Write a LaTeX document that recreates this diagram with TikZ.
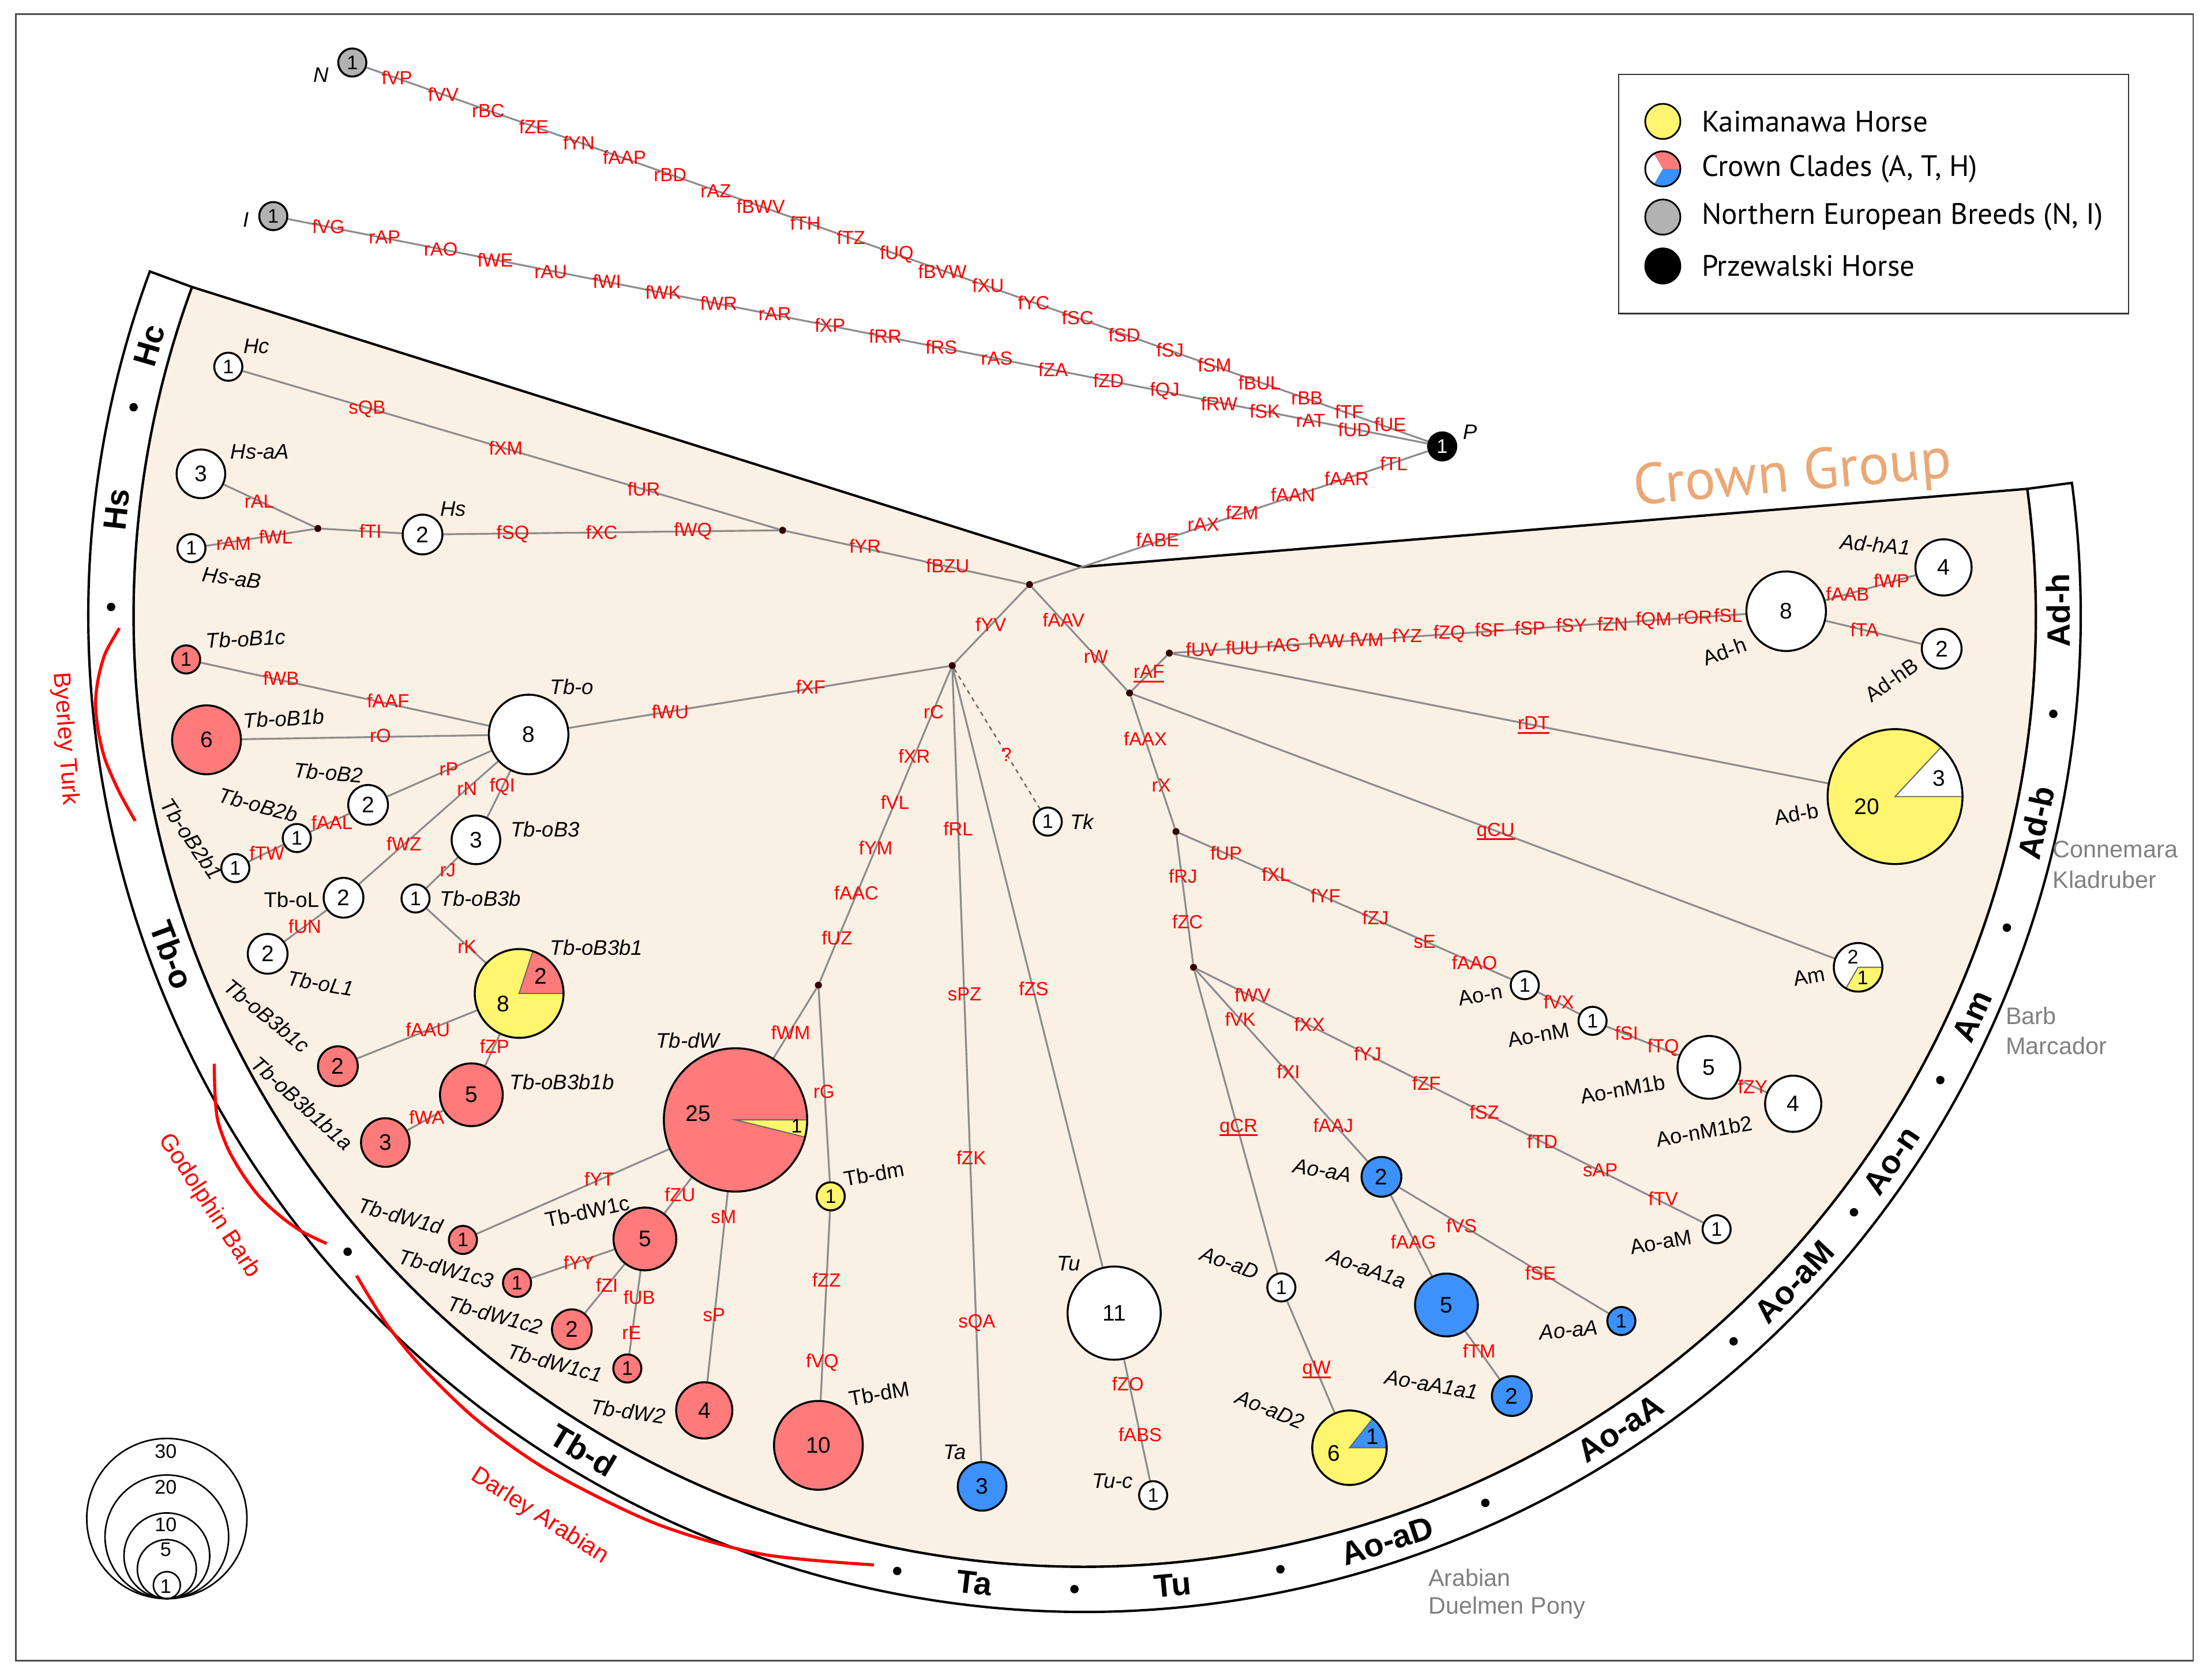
\documentclass[tikz,border=0pt]{standalone}
\usepackage{fontspec}
\setmainfont{Liberation Sans}
\newfontfamily\legfont{PT Sans}
\definecolor{labred}{RGB}{255,0,0}
\definecolor{hred}{RGB}{255,122,122}
\definecolor{hyel}{RGB}{255,245,110}
\definecolor{hblu}{RGB}{60,145,250}
\definecolor{hgry}{RGB}{178,178,178}
\definecolor{beige}{RGB}{251,240,228}
\definecolor{edgeg}{RGB}{140,140,140}
\definecolor{crownc}{RGB}{234,168,118}
\definecolor{brgrey}{RGB}{128,128,128}
\newcommand\rlfont{\fontsize{13.5}{13.5}\selectfont}
\newcommand\nlifont{\fontsize{15}{15}\selectfont\itshape}
\newcommand\nlfont{\fontsize{15}{15}\selectfont}
\newcommand\numfont{\fontsize{16}{16}\selectfont}
\newcommand\numsfont{\fontsize{14}{14}\selectfont}
\newcommand\ringfont{\fontsize{23}{23}\selectfont\bfseries}
\newcommand\legtfont{\legfont\fontsize{21}{21}\selectfont}
\newcommand\crownfont{\legfont\fontsize{41}{41}\selectfont}
\newcommand\breedfont{\fontsize{17}{17}\selectfont}
\newcommand\horsefont{\fontsize{17}{17}\selectfont}
\newcommand\redul[1]{\setbox0\hbox{#1}\rlap{\rule[-2.8pt]{\wd0}{1.2pt}}\box0}
\pgfdeclarelayer{back}
\pgfdeclarelayer{edgelayer}
\pgfsetlayers{back,edgelayer,main}
\tikzset{
  rl/.style={text=labred, font=\rlfont, inner sep=0.5pt},
  nli/.style={font=\nlifont, inner sep=0.5pt},
  nlu/.style={font=\nlfont, inner sep=0.5pt},
  hap/.style={circle, draw=black, line width=1.4pt, inner sep=0, font=\numfont, fill=white},
  sz/.style={minimum size=#1},
  one/.style={hap, minimum size=20pt, font=\numsfont},
  rd/.style={fill=hred}, yl/.style={fill=hyel}, bl/.style={fill=hblu}, gy/.style={fill=hgry},
  ed/.style={draw=edgeg, line width=1.3pt},
  jd/.style={circle, fill=black!80!red, inner sep=0, minimum size=5pt},
  ringlab/.style={font=\ringfont, inner sep=0},
  breed/.style={text=brgrey, font=\breedfont, anchor=west, inner sep=0},
  horse/.style={text=labred, font=\horsefont, inner sep=0},
  legt/.style={font=\legtfont, anchor=west, inner sep=0},
  pienum/.style={font=\numfont, inner sep=0},
  wedge/.style={draw=black!60, line width=0.8pt},
}
\begin{document}
\begin{tikzpicture}[x=1pt,y=-1pt]
\useasboundingbox (0,0) rectangle (1568,1195.6);
\coordinate (C0) at (772,438);
\coordinate (apex) at (770,403.5);
% ---------- sector and ring ----------
\begin{pgfonlayer}{back}
\filldraw[fill=beige, line width=1.7pt] (apex) -- ([shift={(C0)}]-7.65:677) arc[start angle=-7.65, end angle=200.2, radius=677] -- cycle;
\filldraw[fill=white, line width=1.7pt] ([shift={(C0)}]-7.65:677) arc[start angle=-7.65, end angle=200.2, radius=677] -- ([shift={(C0)}]200.2:709) arc[start angle=200.2, end angle=-7.65, radius=709] -- cycle;
\end{pgfonlayer}
\foreach \a/\r/\xt [count=\i] in {196.1/73.9/Hc, 186.25/83.75/Hs, 159.6/-69.6/Tb-o, 121/-31/Tb-d, 96.5/-6.5/Ta, 84.8/5.2/Tu, 71.9/18.1/Ao-aD, 56.6/33.4/Ao-aA, 43.2/46.8/Ao-aM, 34.05/55.95/Ao-n, 24.3/65.7/Am, 12.3/77.7/Ad-b, -0.3/90.3/Ad-h}
  \node[ringlab, rotate=\r] (rg\i) at ([shift={(C0)}]\a:693) {\xt};
\foreach \a in {192.35,180.5,139.2,101.1,90.6,78.4,65.7,48.2,37.8,28.5,18.7,5.8}
  \fill ([shift={(C0)}]\a:693) circle[radius=3];
% ---------- frame, legend ----------
\draw[line width=1.2pt, black!70] (11.3,10.2) rectangle (1561,1182);
\draw[line width=1pt, black!80] (1152,52.9) rectangle (1515,223.1);
\node[circle, draw, line width=1.2pt, fill=hyel, minimum size=25pt, inner sep=0] (lg1) at (1183.5,86.4) {};
\node[circle, fill=white, minimum size=25pt, inner sep=0] (lg2) at (1183.5,120.2) {};
\fill[hred] (lg2.center) -- ++(-120:12.5) arc[start angle=-120, end angle=0, radius=12.5] -- cycle;
\fill[hblu] (lg2.center) -- ++(0:12.5) arc[start angle=0, end angle=120, radius=12.5] -- cycle;
\draw[line width=1.2pt] (lg2.center) circle[radius=12.5];
\node[circle, draw, line width=1.2pt, fill=hgry, minimum size=25pt, inner sep=0] (lg3) at (1183.5,154.5) {};
\node[circle, draw, line width=1.2pt, fill=black, minimum size=25pt, inner sep=0] (lg4) at (1183.5,189.3) {};
\node[legt] (lt1) at (1211,86.4) {Kaimanawa Horse};
\node[legt] (lt2) at (1211,120.2) {Crown Clades (A, T, H)};
\node[legt] (lt3) at (1211,154.5) {Northern European Breeds (N, I)};
\node[legt] (lt4) at (1211,189.3) {Przewalski Horse};
\node[text=crownc, font=\crownfont, rotate=5, inner sep=0] (cg) at (1276,339) {Crown Group};
% breeds
\node[breed] (b1) at (1461,604.5) {Connemara};
\node[breed] (b2) at (1461,626.1) {Kladruber};
\node[breed] (b3) at (1427.5,722.7) {Barb};
\node[breed] (b4) at (1427.5,744.3) {Marcador};
\node[breed] (b5) at (1016.5,1122.6) {Arabian};
\node[breed] (b6) at (1016.5,1144.2) {Duelmen Pony};
% sire lines
\draw[labred, line width=2.2pt] plot[smooth] coordinates {(85,447) (75,464.8) (70,482.6) (68,500.4) (70,520.7) (75,541) (85,563.9) (96.25,584.2)};
\draw[labred, line width=2.2pt] plot[smooth] coordinates {(152.5,757) (153,778) (155,797.3) (162,817) (172.5,835.4) (185,852) (200,865.9) (215,876.5) (232.5,885)};
\draw[labred, line width=2.2pt] plot[smooth] coordinates {(253.75,907.8) (275,942) (300,972.6) (340,1011) (392,1047.5) (467,1084.4) (542,1106) (622,1113.7)};
\node[horse, rotate=-85.8] (bt) at (46.25,525.7) {Byerley Turk};
\node[horse, rotate=-57] (gb) at (148.75,858.3) {Godolphin Barb};
\node[horse, rotate=-32.6] (da) at (384,1079) {Darley Arabian};
% scale
\foreach \r/\xt/\ty in {57/30/1033, 44/20/1058.4, 30.5/10/1085.1, 21/5/1102.9, 9.6/1/1128.8} {
  \draw[line width=1.1pt] (118.75,1137.7-\r) circle[radius=\r];
  \node[font=\numsfont, inner sep=0] (sc\xt) at (118,\ty) {\xt};
}
% ---------- junctions ----------
\node[jd] (J0) at (732.75,416) {};
\node[jd] (JH) at (557,377.4) {};
\node[jd] (JHs) at (226.25,376.1) {};
\node[jd] (JT) at (677.75,473.7) {};
\node[jd] (JW) at (582.5,701.1) {};
\node[jd] (JA) at (804,493.2) {};
\node[jd] (JAd) at (832.25,464.8) {};
\node[jd] (JX) at (837,591.8) {};
\node[jd] (JC) at (849.5,688.4) {};
% ---------- haplotypes ----------
\node[one, gy] (N) at (250.75,44.5) {1};
\node[one, gy] (I) at (194.5,153.8) {1};
\node[one, fill=black, text=white] (P) at (1026.5,317.7) {1};
\node[one] (Hc) at (162.5,261) {1};
\node[hap, sz=34.6pt] (HsaA) at (143,337.2) {3};
\node[hap, sz=28.3pt] (Hs) at (300.75,380.4) {2};
\node[one] (HsaB) at (136.25,390.1) {1};
\node[one, rd] (TboBic) at (132.5,469.3) {1};
\node[hap, sz=56.6pt] (Tbo) at (376.25,522.7) {8};
\node[hap, rd, sz=49pt] (TboBib) at (147,526.5) {6};
\node[hap, sz=28.3pt] (TboBii) at (262,572.8) {2};
\node[one] (TboBiib) at (211.25,596.4) {1};
\node[one] (TboBiibi) at (167.5,617.8) {1};
\node[hap, sz=34.6pt] (TboBiii) at (338.75,597.7) {3};
\node[hap, sz=28.3pt] (TboL) at (244.5,638.9) {2};
\node[one] (TboBiiib) at (295.75,639.4) {1};
\node[hap, sz=28.3pt] (TboLi) at (190.5,678.8) {2};
\node[hap, rd, sz=28.3pt] (TboBiiibic) at (240.5,758.8) {2};
\node[hap, rd, sz=44.7pt] (TboBiiibib) at (335.5,779.1) {5};
\node[hap, rd, sz=34.6pt] (TboBiiibiba) at (274.25,813.1) {3};
\node[one, rd] (TbdWid) at (329.5,882.4) {1};
\node[hap, rd, sz=44.7pt] (TbdWc) at (459,881.7) {5};
\node[one, rd] (TbdWcc) at (368,913) {1};
\node[hap, rd, sz=28.3pt] (TbdWcb) at (407,946) {2};
\node[one, rd] (TbdWca) at (446.5,973.9) {1};
\node[hap, rd, sz=40pt] (TbdWb) at (501.25,1003.7) {4};
\node[one, yl] (Tbdm) at (591.25,851.4) {1};
\node[hap, rd, sz=63.2pt] (TbdM) at (582.5,1028.6) {10};
\node[hap, bl, sz=34.6pt] (Ta) at (699,1057.8) {3};
\node[one] (Tk) at (745.75,584.7) {1};
\node[hap, sz=66.3pt] (Tu) at (793,934.5) {11};
\node[one] (Tuc) at (820.75,1064.1) {1};
\node[hap, sz=40pt] (AdhA) at (1383.3,403.8) {4};
\node[hap, sz=56.6pt] (Adh) at (1271.3,435) {8};
\node[hap, sz=28.3pt] (AdhB) at (1382,461.7) {2};
\node[one] (Aon) at (1085.25,701.1) {1};
\node[one] (AonM) at (1133.5,726.5) {1};
\node[hap, sz=44.7pt] (AonMb) at (1216.3,759.6) {5};
\node[hap, sz=40pt] (AonMbb) at (1276.3,785.5) {4};
\node[one] (AoaM) at (1221.8,874.8) {1};
\node[hap, bl, sz=28.3pt] (AoaA) at (983.25,837.5) {2};
\node[hap, bl, sz=44.7pt] (AoaAa) at (1029.5,928.7) {5};
\node[one, bl] (AoaAs) at (1154,940.1) {1};
\node[hap, bl, sz=28.3pt] (AoaAaa) at (1076,993.5) {2};
\node[one] (AoaD) at (912,916.2) {1};
% pies
\node[circle, inner sep=0, minimum size=63.2pt, fill=hyel] (TboBiiibi) at (369.5,707) {};
\filldraw[fill=hred, wedge] (TboBiiibi.center) -- ++(-72:31.6) arc[start angle=-72, end angle=0, radius=31.6] -- cycle;
\draw[line width=1.4pt] (TboBiiibi.center) circle[radius=31.6];
\node[pienum] (pa1) at (385,694.8) {2};
\node[pienum] (pa2) at (358,714.3) {8};
\node[circle, inner sep=0, minimum size=102pt, fill=hred] (TbdW) at (523.5,797) {};
\filldraw[fill=hyel, wedge] (TbdW.center) -- ++(0:51) arc[start angle=0, end angle=13.85, radius=51] -- cycle;
\draw[line width=1.4pt] (TbdW.center) circle[radius=51];
\node[pienum] (pb1) at (497,792.6) {25};
\node[font=\numsfont, inner sep=0] (pb2) at (567,801.3) {1};
\node[circle, inner sep=0, minimum size=96pt, fill=hyel] (Adb) at (1348.8,566.9) {};
\filldraw[fill=white, wedge] (Adb.center) -- ++(-47:48) arc[start angle=-47, end angle=0, radius=48] -- cycle;
\draw[line width=1.4pt] (Adb.center) circle[radius=48];
\node[pienum] (pc1) at (1380,553.7) {3};
\node[pienum] (pc2) at (1328.8,574) {20};
\node[circle, inner sep=0, minimum size=34.6pt, fill=white] (Am) at (1322.5,688.4) {};
\filldraw[fill=hyel, wedge] (Am.center) -- ++(0:17.3) arc[start angle=0, end angle=120, radius=17.3] -- cycle;
\draw[line width=1.4pt] (Am.center) circle[radius=17.3];
\node[font=\numsfont, inner sep=0] (pd1) at (1318.8,680.8) {2};
\node[font=\numsfont, inner sep=0] (pd2) at (1325.8,696) {1};
\node[circle, inner sep=0, minimum size=52.9pt, fill=hyel] (AoaDb) at (960.5,1030.3) {};
\filldraw[fill=hblu, wedge] (AoaDb.center) -- ++(-51.4:26.5) arc[start angle=-51.4, end angle=0, radius=26.5] -- cycle;
\draw[line width=1.4pt] (AoaDb.center) circle[radius=26.5];
\node[pienum] (pe1) at (977,1022.2) {1};
\node[pienum] (pe2) at (949.5,1034.2) {6};
% ---------- edges ----------
\begin{pgfonlayer}{edgelayer}
\draw[ed] (N) -- (P);
\draw[ed] (I) -- (P);
\draw[ed] (P) -- (J0);
\draw[ed] (J0) -- (JH);
\draw[ed] (JH) -- (Hc);
\draw[ed] (JH) -- (Hs);
\draw[ed] (Hs) -- (JHs);
\draw[ed] (JHs) -- (HsaA);
\draw[ed] (JHs) -- (HsaB);
\draw[ed] (J0) -- (JT);
\draw[ed] (JT) -- (Tbo);
\draw[ed] (Tbo) -- (TboBic);
\draw[ed] (Tbo) -- (TboBib);
\draw[ed] (Tbo) -- (TboBii);
\draw[ed] (TboBii) -- (TboBiib);
\draw[ed] (TboBiib) -- (TboBiibi);
\draw[ed] (Tbo) -- (TboL);
\draw[ed] (TboL) -- (TboLi);
\draw[ed] (Tbo) -- (TboBiii);
\draw[ed] (TboBiii) -- (TboBiiib);
\draw[ed] (TboBiiib) -- (TboBiiibi);
\draw[ed] (TboBiiibi) -- (TboBiiibic);
\draw[ed] (TboBiiibi) -- (TboBiiibib);
\draw[ed] (TboBiiibib) -- (TboBiiibiba);
\draw[ed] (JT) -- (JW);
\draw[ed] (JW) -- (TbdW);
\draw[ed] (JW) -- (Tbdm);
\draw[ed] (Tbdm) -- (TbdM);
\draw[ed] (TbdW) -- (TbdWid);
\draw[ed] (TbdW) -- (TbdWc);
\draw[ed] (TbdW) -- (TbdWb);
\draw[ed] (TbdWc) -- (TbdWcc);
\draw[ed] (TbdWc) -- (TbdWcb);
\draw[ed] (TbdWc) -- (TbdWca);
\draw[ed] (JT) -- (Ta);
\draw[ed] (JT) -- (Tu);
\draw[ed] (Tu) -- (Tuc);
\draw[ed, dashed, draw=black!60, line width=1pt] (JT) -- (Tk);
\draw[ed] (J0) -- (JA);
\draw[ed] (JA) -- (JAd);
\draw[ed] (JAd) -- (Adh);
\draw[ed] (Adh) -- (AdhA);
\draw[ed] (Adh) -- (AdhB);
\draw[ed] (JAd) -- (Adb);
\draw[ed] (JA) -- (Am);
\draw[ed] (JA) -- (JX);
\draw[ed] (JX) -- (Aon);
\draw[ed] (Aon) -- (AonM);
\draw[ed] (AonM) -- (AonMb);
\draw[ed] (AonMb) -- (AonMbb);
\draw[ed] (JX) -- (JC);
\draw[ed] (JC) -- (AoaM);
\draw[ed] (JC) -- (AoaA);
\draw[ed] (AoaA) -- (AoaAa);
\draw[ed] (AoaAa) -- (AoaAaa);
\draw[ed] (AoaA) -- (AoaAs);
\draw[ed] (JC) -- (AoaD);
\draw[ed] (AoaD) -- (AoaDb);
\end{pgfonlayer}
% ---------- mutation labels ----------
\foreach \xt/\xp [count=\i] in {fVP/{282.5,55.4}, fVV/{315.5,67.3}, rBC/{347.5,78.8}, fZE/{380,90.2}, fYN/{412,101.7}, fAAP/{444.5,111.8}, rBD/{477,124.5}, rAZ/{509.5,136}, fBWV/{541.5,146.9}, fTH/{573.25,158.8}, fTZ/{605.75,169}, fUQ/{638.25,180.9}, fBVW/{670.75,193.1}, fXU/{703.25,203.3}, fYC/{735.75,215.5}, fSC/{767,226.2}, fSD/{800.25,238.4}, fSJ/{832.75,249}, fSM/{864.5,259.7}, fBUL/{896.5,272.4}, rBB/{930.25,283.4}, fTF/{960.25,293}, fUE/{989.5,301.9}}
  \node[rl] (ma\i) at (\xp) {\xt};
\foreach \xt/\xp [count=\i] in {fVG/{233.75,161.4}, rAP/{273.75,169}, rAO/{313.75,177.4}, fWE/{352.5,185}, rAU/{392,193.6}, fWI/{432,200.3}, fWK/{472,207.9}, fWR/{511.5,216}, rAR/{551.5,223.6}, fXP/{590.75,231.3}, fRR/{630,239.4}, fRS/{670,247}, rAS/{709.5,254.9}, fZA/{749.5,263}, fZD/{789,271}, fQJ/{829,278.3}, fRW/{867.75,287.2}, fSK/{900.25,292.8}, rAT/{932.75,299.4}, fUD/{964,305.7}}
  \node[rl] (mb\i) at (\xp) {\xt};
\foreach \xt/\xp [count=\i] in {fTL/{992,329.9}, fAAR/{958.5,340.5}, fAAN/{920.25,352}, fZM/{884,364.7}, rAX/{856.5,373.1}, fABE/{824,384.2}, sQB/{261.25,291}, fXM/{360,318.9}, fUR/{458.25,348.2}, fYR/{615.75,388.8}, fBZU/{674.5,402.5}, rAL/{184.5,357}, fTI/{263.75,378.1}, fSQ/{365,379.9}, fXC/{428.25,378.7}, fWQ/{493.25,378.1}, rAM/{166.25,386.8}, fWL/{196.25,382}, fYV/{705.25,444.4}, fAAV/{757,441.4}, rW/{780,467.3}, fXF/{577,488.9}, fWU/{477,506.7}}
  \node[rl] (mc\i) at (\xp) {\xt};
\foreach \xt/\xp [count=\i] in {fWB/{200,482.6}, fAAF/{276.25,498.6}, rO/{270.75,523.7}, rP/{319.5,547.4}, fAAL/{236.25,585.5}, fTW/{190,607.1}, rN/{332.5,561.3}, fQI/{357.5,560.1}, fWZ/{287.5,600.7}, rJ/{318.75,619.3}, fUN/{217,659.2}, rK/{332.5,673.7}, fAAU/{304.5,732.9}, fZP/{352,744.8}, fWA/{303.75,795.1}, rC/{664.5,506.7}, fXR/{650.75,538}, fVL/{637,571}, fYM/{623.25,603.3}, fAAC/{609.5,635.5}, fUZ/{595.75,667.6}, fWM/{562.75,734.7}, rG/{586.5,776.8}, ?/{716.25,537.2}, fRL/{682,589.8}, sPZ/{686.5,707.5}, fZS/{735.75,703.7}, fZK/{691.25,824}, sQA/{695.25,941.7}}
  \node[rl] (md\i) at (\xp) {\xt};
\foreach \xt/\xp [count=\i] in {fYT/{426.5,839.2}, fZU/{484,850.2}, sM/{515,865.9}, fYY/{412,898.4}, fZI/{432,914.7}, fUB/{455,923.1}, rE/{449.5,948.5}, sP/{508.25,935.8}, fZZ/{588.25,910.9}, fVQ/{585.25,969.6}, fZO/{802.75,984.9}, fABS/{811.5,1020.9}}
  \node[rl] (me\i) at (\xp) {\xt};
\foreach \xt/\xp [count=\i] in {{\redul{rAF}}/{817.75,479.5}, fUV/{855.25,462.2}, fUU/{884,461}, rAG/{913.5,458.9}, fVW/{944,455.9}, fVM/{972.75,455.1}, fYZ/{1001.5,452.1}, fZQ/{1031.5,451.3}, fSF/{1060.25,448.3}, fSP/{1089,447}, fSY/{1118.5,445}, fZN/{1147.75,443.9}, fQM/{1177,441.5}, rOR/{1206.3,439.4}, fSL/{1230,438.1}, fAAB/{1315,422.8}, fWP/{1346.3,413.4}, fTA/{1327,448.3}, {\redul{rDT}}/{1091.5,516.1}, {\redul{qCU}}/{1064.5,591.8}}
  \node[rl] (mf\i) at (\xp) {\xt};
\foreach \xt/\xp [count=\i] in {fAAX/{815.25,525.8}, rX/{826.5,558.8}, fUP/{872.75,607.1}, fXL/{908.25,622.3}, fYF/{943.5,637.6}, fZJ/{979,653.3}, sE/{1014,670.1}, fAAO/{1049.5,685.1}, fVX/{1109.5,713.1}, fSI/{1157.75,735.4}, fTQ/{1183.8,745.6}, fZY/{1247.5,773.5}, fRJ/{842,623.6}, fZC/{845.25,655.9}, fWV/{891.5,708.2}, fVK/{882.75,725.3}, fXX/{932,729.1}, fYJ/{973.5,750.2}, fZF/{1015.25,771}, fSZ/{1056.5,791.3}, fTD/{1097.75,812.5}, sAP/{1139,832.9}, fTV/{1183.8,853.2}, fXI/{917,762.6}, fAAJ/{949,801.1}, {\redul{qCR}}/{881.5,802.4}, fAAG/{1006,883.7}, fVS/{1040.25,872.3}, fSE/{1096.5,906.1}, fTM/{1052.75,961.2}, {\redul{qW}}/{937,974.7}}
  \node[rl] (mg\i) at (\xp) {\xt};
% ---------- haplotype names ----------
\node[nli] (tN) at (228.75,53.4) {N};
\node[nli] (tI) at (175,156.3) {I};
\node[nli] (tP) at (1046.5,307.5) {P};
\node[nli] (tHc) at (182.5,246.5) {Hc};
\node[nli] (tHsaA) at (185,321.5) {Hs-aA};
\node[nli] (tHs) at (322.5,362.1) {Hs};
\node[nli, rotate=-8] (tHsaB) at (165,411.4) {Hs-aB};
\node[nli, rotate=3] (tTboBic) at (175,454.6) {Tb-oB1c};
\node[nli] (tTbo) at (407,488.9) {Tb-o};
\node[nli, rotate=3] (tTboBib) at (202,511.3) {Tb-oB1b};
\node[nli, rotate=-5] (tTboBii) at (233.75,549.9) {Tb-oB2};
\node[nli, rotate=-15] (tTboBiib) at (183.75,572.8) {Tb-oB2b};
\node[nli, rotate=-56] (tTboBiibi) at (136.25,596.9) {Tb-oB2b1};
\node[nli] (tTboBiii) at (388,590) {Tb-oB3};
\node[nlu] (tTboL) at (207.5,640.1) {Tb-oL};
\node[nli] (tTboBiiib) at (342,639.6) {Tb-oB3b};
\node[nli, rotate=-10] (tTboLi) at (228,699.8) {Tb-oL1};
\node[nli] (tTboBiiibi) at (424.5,674.4) {Tb-oB3b1};
\node[nli, rotate=-39] (tTboBiiibic) at (190,722.7) {Tb-oB3b1c};
\node[nli] (tTboBiiibib) at (400,770) {Tb-oB3b1b};
\node[nli, rotate=-42] (tTboBiiibiba) at (215,785) {Tb-oB3b1b1a};
\node[nli] (tTbdW) at (489.5,740.5) {Tb-dW};
\node[nli, rotate=-15] (tTbdWid) at (285,865.4) {Tb-dW1d};
\node[nlu, rotate=12] (tTbdWc) at (418,862) {Tb-dW1c};
\node[nli, rotate=-15] (tTbdWcc) at (317.5,902.8) {Tb-dW1c3};
\node[nli, rotate=-15] (tTbdWcb) at (352.5,935.8) {Tb-dW1c2};
\node[nli, rotate=-15] (tTbdWca) at (395,970) {Tb-dW1c1};
\node[nli, rotate=-8] (tTbdWb) at (447,1004.4) {Tb-dW2};
\node[nlu, rotate=10] (tTbdm) at (622,835.4) {Tb-dm};
\node[nlu, rotate=10] (tTbdM) at (625.75,991.7) {Tb-dM};
\node[nli] (tTa) at (679.5,1033.6) {Ta};
\node[nli] (tTk) at (770,584.7) {Tk};
\node[nli] (tTu) at (760.75,899) {Tu};
\node[nli] (tTuc) at (792,1054) {Tu-c};
\node[nli, rotate=-20] (tAoaD) at (875.25,899) {Ao-aD};
\node[nli, rotate=-10] (tAoaA) at (941.5,832.9) {Ao-aA};
\node[nli, rotate=-20] (tAoaAa) at (972.75,902.8) {Ao-aA1a};
\node[nli, rotate=5] (tAoaAs) at (1116.5,946.7) {Ao-aA};
\node[nli, rotate=-10] (tAoaAaa) at (1019,985.4) {Ao-aA1a1};
\node[nli, rotate=-22] (tAoaDb) at (904,1003.1) {Ao-aD2};
\node[nli, rotate=-5] (tAdhA) at (1334.75,387.5) {Ad-hA1};
\node[nlu, rotate=20] (tAdh) at (1227.5,463.5) {Ad-h};
\node[nlu, rotate=35] (tAdhB) at (1346.3,483.8) {Ad-hB};
\node[nlu, rotate=10] (tAdb) at (1278.8,579.1) {Ad-b};
\node[nlu, rotate=10] (tAm) at (1287.5,694.8) {Am};
\node[nlu, rotate=10] (tAon) at (1053.5,708.2) {Ao-n};
\node[nlu, rotate=10] (tAonM) at (1095.25,736.7) {Ao-nM};
\node[nlu, rotate=10] (tAonMb) at (1155,775) {Ao-nM1b};
\node[nlu, rotate=10] (tAonMbb) at (1213,805) {Ao-nM1b2};
\node[nlu, rotate=10] (tAoaM) at (1182,884) {Ao-aM};
\end{tikzpicture}
\end{document}
